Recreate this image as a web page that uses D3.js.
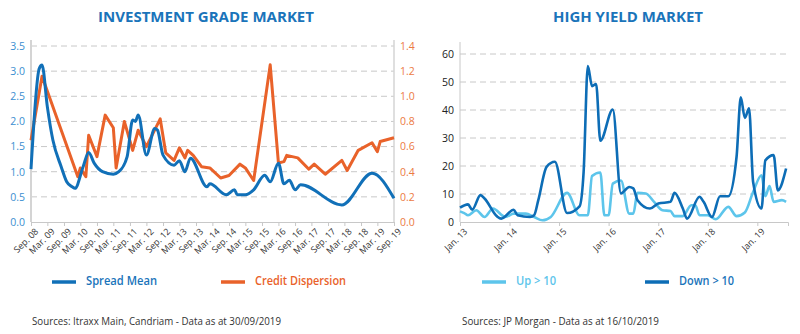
<!DOCTYPE html>
<html>
<head>
<meta charset="utf-8">
<script src="https://cdn.jsdelivr.net/npm/d3@7"></script>
<style>
  body { margin: 0; background: #fff; }
  svg { font-family: "Open Sans", sans-serif; }
</style>
</head>
<body>
<svg width="800" height="334"></svg>
<script>
// ---- investment grade data ----
var igDates = ["2008-09","2008-12","2009-01","2009-03","2009-05","2009-08","2009-10","2009-12","2010-01","2010-04","2010-06","2010-08","2010-11","2011-03","2011-05","2011-08","2011-10","2011-11","2011-12","2012-03","2012-06","2012-07","2012-09","2013-01","2013-03","2013-05","2013-07","2014-01","2014-02","2014-08","2014-11","2014-12","2015-03","2015-06","2015-10","2015-12","2016-03","2016-05","2016-07","2016-09","2016-11","2018-02","2019-01","2019-09"];
var spreadMean = [1.05,3.05,3.12,2.29,1.63,1.10,0.80,0.70,0.67,1.10,1.38,1.17,1.00,0.95,1.00,1.30,2.03,2.00,2.13,1.33,1.86,1.83,1.33,1.13,1.22,1.00,1.27,0.70,0.76,0.54,0.64,0.54,0.54,0.64,0.93,0.80,1.17,0.76,0.83,0.64,0.74,0.34,0.97,0.47];

var dispDates = ["2008-09","2009-01","2010-02","2010-03","2010-05","2010-06","2010-09","2010-12","2011-03","2011-04","2011-07","2011-10","2011-12","2012-03","2012-08","2012-10","2013-01","2013-03","2013-05","2013-06","2013-08","2013-11","2014-02","2014-06","2014-09","2015-01","2015-03","2015-06","2015-12","2016-03","2016-05","2016-06","2016-10","2017-02","2017-04","2017-08","2018-02","2018-04","2018-08","2019-01","2019-03","2019-04","2019-09"];
var creditDispersion = [0.65,1.16,0.36,0.43,0.36,0.69,0.52,0.85,0.75,0.43,0.80,0.57,0.73,0.60,0.82,0.55,0.49,0.59,0.51,0.57,0.53,0.44,0.43,0.35,0.37,0.46,0.43,0.33,1.25,0.47,0.48,0.53,0.51,0.42,0.46,0.38,0.49,0.41,0.57,0.63,0.56,0.64,0.67];

var igTicks = ["2008-09","2009-03","2009-09","2010-03","2010-09","2011-03","2011-09","2012-03","2012-09","2013-03","2013-09","2014-03","2014-09","2015-03","2015-09","2016-03","2016-09","2017-03","2017-09","2018-03","2018-09","2019-03","2019-09"];
var igLeftTicks = [0, 0.5, 1, 1.5, 2, 2.5, 3, 3.5];
var igRightTicks = [0, 0.2, 0.4, 0.6, 0.8, 1.0, 1.2, 1.4];

// ---- high yield data ----
var upDates = ["2013-01","2013-02","2013-03","2013-05","2013-07","2013-09","2013-12","2014-02","2014-05","2014-07","2014-09","2014-11","2015-03","2015-06","2015-08","2015-09","2015-11","2015-12","2016-01","2016-02","2016-04","2016-06","2016-07","2016-08","2016-10","2016-12","2017-02","2017-04","2017-05","2017-07","2017-09","2017-10","2017-11","2018-01","2018-03","2018-06","2018-08","2018-10","2018-12","2019-02","2019-03","2019-04","2019-05","2019-07","2019-08"];
var upGt10 = [3.8,3.2,2.4,4.2,1.8,4.8,1.8,3.0,3.0,1.8,0.6,1.8,10.4,2.4,2.4,16.4,17.7,2.4,2.4,13.7,14.8,3.0,3.0,10.4,10.2,7.2,4.2,3.9,2.1,2.1,6.0,6.0,2.4,2.4,1.0,5.4,2.1,3.4,10.7,16.7,9.2,12.8,7.2,7.8,7.2];

var downDates = ["2013-01","2013-03","2013-04","2013-06","2013-07","2013-10","2013-11","2014-02","2014-03","2014-06","2014-07","2014-08","2014-10","2014-12","2015-03","2015-06","2015-07","2015-08","2015-09","2015-10","2015-11","2016-02","2016-04","2016-06","2016-07","2016-08","2016-11","2017-01","2017-04","2017-05","2017-07","2017-08","2017-11","2017-12","2018-02","2018-04","2018-06","2018-08","2018-09","2018-10","2018-11","2018-12","2019-02","2019-03","2019-05","2019-06","2019-08"];
var downGt10 = [5.1,6.3,4.4,9.6,8.4,2.0,1.2,4.4,2.4,1.8,2.4,7.8,19.7,21.5,3.2,5.6,17.9,55.7,48.5,49.3,29.0,40.2,10.2,12.5,12.0,7.8,4.8,6.6,7.2,10.4,4.8,1.2,9.0,7.2,1.8,9.2,9.2,23.3,44.5,37.2,40.6,14.3,4.8,22.0,23.9,11.3,19.1];

var hyTicks = ["2013-01","2014-01","2015-01","2016-01","2017-01","2018-01","2019-01"];
var hyYTicks = [0, 10, 20, 30, 40, 50, 60];

var parse = d3.timeParse("%Y-%m");
var svg = d3.select("svg");

var BLUE = "#1170b8", ORANGE = "#e9622a", LIGHT = "#5dc5eb", DARK = "#0d6db6";

// ---- titles ----
svg.append("text").attr("x", 206).attr("y", 22).attr("text-anchor", "middle")
   .attr("font-size", 15).attr("font-weight", 700).attr("fill", "#1a74ba")
   .attr("textLength", 216).attr("lengthAdjust", "spacingAndGlyphs")
   .text("INVESTMENT GRADE MARKET");
svg.append("text").attr("x", 628).attr("y", 22).attr("text-anchor", "middle")
   .attr("font-size", 15).attr("font-weight", 700).attr("fill", "#1a74ba")
   .attr("textLength", 150).attr("lengthAdjust", "spacingAndGlyphs")
   .text("HIGH YIELD MARKET");

// ================= left chart =================
var x1 = d3.scaleTime().domain([parse("2008-09"), parse("2019-09")]).range([31, 394]);
var yL = d3.scaleLinear().domain([0, 3.5]).range([222, 46]);
var yR = d3.scaleLinear().domain([0, 1.4]).range([222, 46]);

var g1 = svg.append("g");

g1.selectAll(".grid").data(igLeftTicks.slice(1)).enter().append("line")
  .attr("x1", 31).attr("x2", 394)
  .attr("y1", function(d) { return yL(d); }).attr("y2", function(d) { return yL(d); })
  .attr("stroke", "#c8c8c8").attr("stroke-dasharray", "6,4");

// axes lines
g1.append("line").attr("x1", 31).attr("x2", 31).attr("y1", 40).attr("y2", 222)
  .attr("stroke", "#d4d4d4").attr("stroke-width", 2);
g1.append("line").attr("x1", 394).attr("x2", 394).attr("y1", 40).attr("y2", 222)
  .attr("stroke", "#d4d4d4").attr("stroke-width", 1.5);

var xa1 = g1.append("g").attr("transform", "translate(0,222)")
  .call(d3.axisBottom(x1).tickValues(igTicks.map(parse)).tickSize(4)
        .tickFormat(d3.timeFormat("%b. %y")));
xa1.select(".domain").attr("stroke", "#c8c8c8");
xa1.selectAll(".tick line").attr("stroke", "#c8c8c8");
xa1.selectAll("text")
  .attr("font-size", 9).attr("fill", "#333").attr("font-family", "Open Sans")
  .style("text-anchor", "end").attr("dx", "-0.2em").attr("dy", "0.6em")
  .attr("transform", "rotate(-45)");

var ya1 = g1.append("g").attr("transform", "translate(29,0)")
  .call(d3.axisLeft(yL).tickValues(igLeftTicks).tickSize(0).tickPadding(4).tickFormat(d3.format(".1f")));
ya1.select(".domain").remove();
ya1.selectAll("text").attr("font-size", 10.5).attr("fill", "#3b8ed0").attr("font-family", "Open Sans");

var ya2 = g1.append("g").attr("transform", "translate(396,0)")
  .call(d3.axisRight(yR).tickValues(igRightTicks).tickSize(0).tickPadding(4).tickFormat(d3.format(".1f")));
ya2.select(".domain").remove();
ya2.selectAll("text").attr("font-size", 10.5).attr("fill", "#ec7a43").attr("font-family", "Open Sans");

var lineL = d3.line().curve(d3.curveMonotoneX)
  .x(function(d) { return x1(d[0]); }).y(function(d) { return yL(d[1]); });
var lineR = d3.line()
  .x(function(d) { return x1(d[0]); }).y(function(d) { return yR(d[1]); });

g1.append("path").datum(dispDates.map(function(d, i) { return [parse(d), creditDispersion[i]]; }))
  .attr("d", lineR).attr("fill", "none").attr("stroke", ORANGE).attr("stroke-width", 3).attr("stroke-linejoin", "round");
g1.append("path").datum(igDates.map(function(d, i) { return [parse(d), spreadMean[i]]; }))
  .attr("d", lineL).attr("fill", "none").attr("stroke", BLUE).attr("stroke-width", 3).attr("stroke-linejoin", "round");

// ================= right chart =================
var x2 = d3.scaleTime().domain([parse("2013-01"), new Date(2019, 7, 15)]).range([460, 788]);
var y2 = d3.scaleLinear().domain([0, 60]).range([222, 54]);

var g2 = svg.append("g");
g2.selectAll(".grid").data(hyYTicks.slice(1)).enter().append("line")
  .attr("x1", 460).attr("x2", 788)
  .attr("y1", function(d) { return y2(d); }).attr("y2", function(d) { return y2(d); })
  .attr("stroke", "#c8c8c8").attr("stroke-dasharray", "6,4");

g2.append("line").attr("x1", 460).attr("x2", 460).attr("y1", 42).attr("y2", 222)
  .attr("stroke", "#c8c8c8").attr("stroke-width", 1);

var xa2 = g2.append("g").attr("transform", "translate(0,222)")
  .call(d3.axisBottom(x2).tickValues(hyTicks.map(parse)).tickSize(4)
        .tickFormat(d3.timeFormat("Jan. %y")));
xa2.select(".domain").attr("stroke", "#c8c8c8");
xa2.selectAll(".tick line").attr("stroke", "#c8c8c8");
xa2.selectAll("text")
  .attr("font-size", 9).attr("fill", "#333").attr("font-family", "Open Sans")
  .style("text-anchor", "end").attr("dx", "-0.2em").attr("dy", "0.6em")
  .attr("transform", "rotate(-45)");

var ya3 = g2.append("g").attr("transform", "translate(458,0)")
  .call(d3.axisLeft(y2).tickValues(hyYTicks).tickSize(0).tickPadding(4));
ya3.select(".domain").remove();
ya3.selectAll("text").attr("font-size", 10.5).attr("fill", "#222").attr("font-family", "Open Sans");

var line2 = d3.line().curve(d3.curveMonotoneX)
  .x(function(d) { return x2(d[0]); }).y(function(d) { return y2(d[1]); });

g2.append("path").datum(upDates.map(function(d, i) { return [parse(d), upGt10[i]]; }))
  .attr("d", line2).attr("fill", "none").attr("stroke", LIGHT).attr("stroke-width", 2.6).attr("stroke-linejoin", "round");
g2.append("path").datum(downDates.map(function(d, i) { return [parse(d), downGt10[i]]; }))
  .attr("d", line2).attr("fill", "none").attr("stroke", DARK).attr("stroke-width", 2.6).attr("stroke-linejoin", "round");

// ---- legends ----
var legends = [
  {x: 52, label: "Spread Mean", color: BLUE, text: "#1a74ba", w: 71},
  {x: 221, label: "Credit Dispersion", color: ORANGE, text: "#e9622a", w: 91},
  {x: 482, label: "Up > 10", color: LIGHT, text: "#5dc5eb", w: 40},
  {x: 645, label: "Down > 10", color: DARK, text: "#1a74ba", w: 55}
];
var lg = svg.selectAll(".legend").data(legends).enter().append("g")
  .attr("transform", function(d) { return "translate(" + d.x + ",281)"; });
lg.append("line").attr("x1", 0).attr("x2", 24).attr("y1", 1).attr("y2", 1)
  .attr("stroke", function(d) { return d.color; }).attr("stroke-width", 3.5);
lg.append("text").attr("x", 34).attr("y", 4).attr("font-size", 12).attr("font-weight", 600)
  .attr("textLength", function(d) { return d.w; }).attr("lengthAdjust", "spacingAndGlyphs")
  .attr("fill", function(d) { return d.text; }).text(function(d) { return d.label; });

// ---- sources ----
svg.append("text").attr("x", 32).attr("y", 325).attr("font-size", 10).attr("fill", "#333")
  .attr("textLength", 249).attr("lengthAdjust", "spacingAndGlyphs")
  .text("Sources: Itraxx Main, Candriam - Data as at 30/09/2019");
svg.append("text").attr("x", 462).attr("y", 325).attr("font-size", 10).attr("fill", "#333")
  .attr("textLength", 197).attr("lengthAdjust", "spacingAndGlyphs")
  .text("Sources: JP Morgan - Data as at 16/10/2019");
</script>
</body>
</html>
